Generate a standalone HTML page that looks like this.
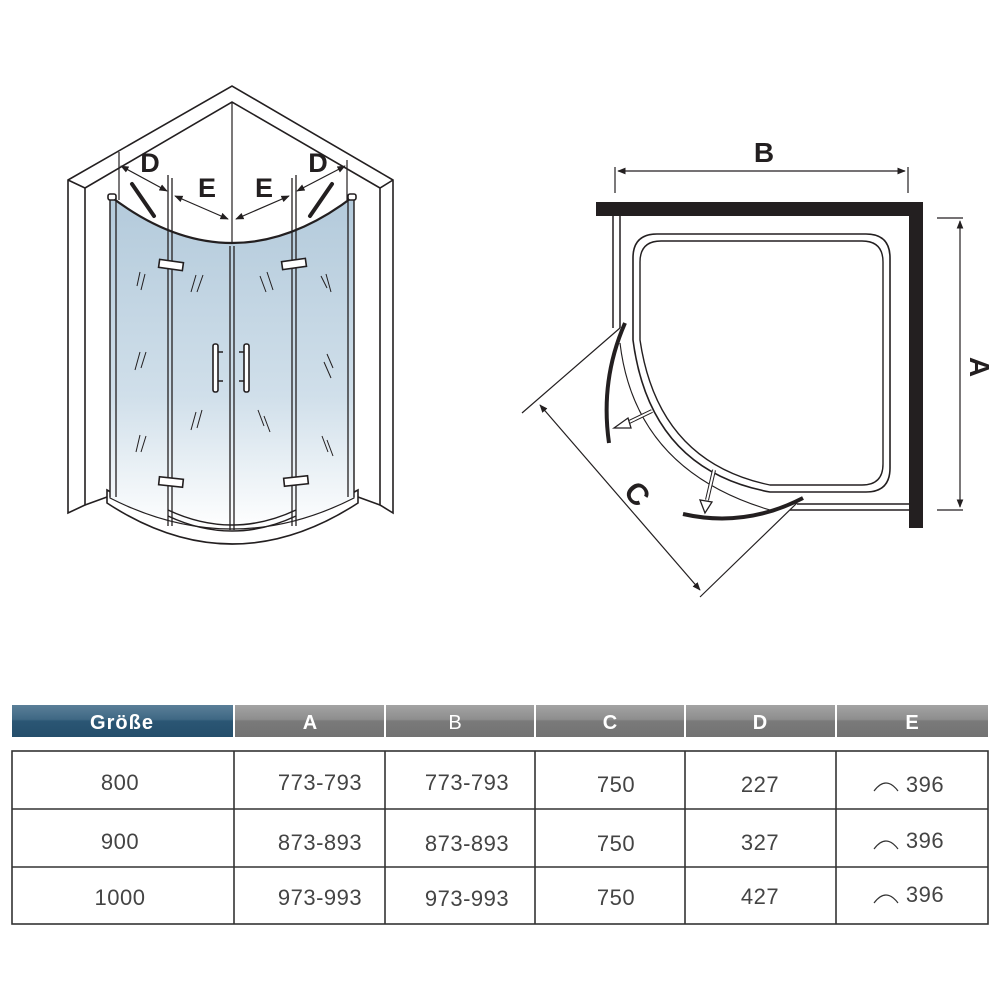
<!DOCTYPE html>
<html><head><meta charset="utf-8"><style>
html,body{margin:0;padding:0;background:#fff;width:1000px;height:1000px;overflow:hidden}
svg{position:absolute;left:0;top:0}
text{font-family:"Liberation Sans",sans-serif}
</style></head><body>
<svg width="1000" height="1000" viewBox="0 0 1000 1000">
<defs>
<linearGradient id="gl" x1="0" y1="0" x2="0" y2="1">
<stop offset="0" stop-color="#b3cadb"/><stop offset="0.6" stop-color="#d0dfea"/><stop offset="1" stop-color="#ffffff"/>
</linearGradient>
<linearGradient id="hg" x1="0" y1="0" x2="0" y2="1">
<stop offset="0" stop-color="#a3a3a3"/><stop offset="0.45" stop-color="#8e8e8e"/><stop offset="0.5" stop-color="#7a7a7a"/><stop offset="1" stop-color="#727272"/>
</linearGradient>
<linearGradient id="hb" x1="0" y1="0" x2="0" y2="1">
<stop offset="0" stop-color="#5a7f98"/><stop offset="0.45" stop-color="#3f6884"/><stop offset="0.5" stop-color="#2b5674"/><stop offset="1" stop-color="#244e6b"/>
</linearGradient>
<marker id="ar" viewBox="0 0 10 10" refX="9" refY="5" markerWidth="7" markerHeight="7" orient="auto-start-reverse"><path d="M0,1 L10,5 L0,9 Z" fill="#231f20"/></marker>
</defs>

<!-- LEFT DRAWING -->
<g stroke="#231f20" stroke-width="1.6" fill="none">
<path d="M68,513 L68,180 L232,86 L393,180 L393,513 L380,505 L380,188 L232,102 L85,188 L85,505 Z" fill="#fff"/>
<path d="M68,180 L85,188 M393,180 L380,188"/>
<path d="M107,490 L107,503 Q232,585 358,503 L358,490 Q232,560 107,490 Z" fill="#fff"/>
<path d="M85,505 L107,497 M380,505 L358,497"/>
<path d="M110,196 Q232,290 354,196 L354,498 Q232,560 110,498 Z" fill="url(#gl)" stroke-width="1.2"/>
<line x1="232" y1="102" x2="232" y2="243" stroke-width="1.2"/>
<path d="M110,196 Q232,290 354,196" stroke-width="2.2"/>
<path d="M110,198 L110,497 M116,198 L116,497 M348,198 L348,497 M354,198 L354,497" stroke-width="1.3"/>
<path d="M168,175 L168,526 M172,178 L172,526 M292,178 L292,526 M296,175 L296,526 M230,246 L230,530 M234,246 L234,530" stroke-width="1.3"/>
<path d="M168,510 Q232,540 296,510 M168,516 Q232,546 296,516" stroke-width="1.5"/>
<rect x="108" y="194" width="8" height="6" rx="2" fill="#fff"/>
<rect x="348" y="194" width="8" height="6" rx="2" fill="#fff"/>
<path d="M132,184 L154,216" stroke-width="4" stroke-linecap="round"/>
<path d="M332,184 L310,216" stroke-width="4" stroke-linecap="round"/>
<rect x="159" y="261" width="24" height="8" fill="#fff" transform="rotate(8 171 265)"/>
<rect x="282" y="260" width="24" height="8" fill="#fff" transform="rotate(-8 294 264)"/>
<rect x="159" y="478" width="24" height="8" fill="#fff" transform="rotate(6 171 482)"/>
<rect x="284" y="477" width="24" height="8" fill="#fff" transform="rotate(-6 296 481)"/>
<rect x="213" y="344" width="5" height="48" rx="2" fill="#fff"/>
<rect x="244" y="344" width="5" height="48" rx="2" fill="#fff"/>
<path d="M218,352 L223,352 M218,381 L223,381 M244,352 L239,352 M244,381 L239,381"/>
<g stroke-width="1">
<path d="M140,272 L137,286 M145,274 L141,290 M196,275 L191,292 M203,275 L197,292 M260,276 L266,292 M267,272 L273,290 M326,274 L331,292 M321,276 L327,288"/>
<path d="M140,352 L135,370 M146,352 L141,368 M324,362 L331,378 M327,354 L333,368"/>
<path d="M196,412 L191,430 M202,410 L197,428 M258,410 L264,426 M264,416 L270,432"/>
<path d="M140,435 L136,452 M146,436 L141,452 M322,436 L328,452 M327,440 L333,456"/>
</g>
<g stroke-width="1.2">
<line x1="119" y1="152" x2="119" y2="200"/>
<line x1="347" y1="160" x2="347" y2="200"/>
<line x1="121" y1="166" x2="167" y2="191" marker-start="url(#ar)" marker-end="url(#ar)"/>
<line x1="175" y1="196" x2="228" y2="219" marker-start="url(#ar)" marker-end="url(#ar)"/>
<line x1="236" y1="219" x2="289" y2="196" marker-start="url(#ar)" marker-end="url(#ar)"/>
<line x1="297" y1="191" x2="345" y2="166" marker-start="url(#ar)" marker-end="url(#ar)"/>
</g>
</g>
<g font-weight="bold" font-size="27" fill="#231f20" text-anchor="middle">
<text x="150" y="172">D</text><text x="207" y="197">E</text><text x="264" y="197">E</text><text x="318" y="172">D</text>
</g>

<!-- RIGHT DRAWING -->
<g stroke="#231f20" fill="none">
<rect x="596" y="202" width="327" height="14" fill="#231f20" stroke="none"/>
<rect x="909" y="202" width="14" height="326" fill="#231f20" stroke="none"/>
<path d="M613,216 L613,328 M620,216 L620,328" stroke-width="1.5"/>
<path d="M797,504 L909,504 M790,510 L909,510" stroke-width="1.5"/>
<path d="M633,340 L633,258 Q633,234 657,234 L866,234 Q890,234 890,258 L890,468 Q890,492 866,492 L770,492 Q650,470 633,340 Z" stroke-width="1.6"/>
<path d="M640,340 L640,262 Q640,241 661,241 L862,241 Q883,241 883,262 L883,464 Q883,485 862,485 L770,485 Q658,462 640,340 Z" stroke-width="1.4"/>
<path d="M620,343 Q635,470 770,510" stroke-width="1.1"/>
<path d="M625,323 Q600,380 609,443" stroke-width="4"/>
<path d="M683,514 Q745,528 803,498" stroke-width="4"/>
<path d="M652,411 L625,424" stroke-width="4"/><path d="M652,411 L625,424" stroke="#fff" stroke-width="2"/>
<path d="M614,428 L628,418 L631,428 Z" fill="#fff" stroke-width="1.3"/>
<path d="M714,470 L707,500" stroke-width="4"/><path d="M714,470 L707,500" stroke="#fff" stroke-width="2"/>
<path d="M705,513 L700,500 L712,502 Z" fill="#fff" stroke-width="1.3"/>
<g stroke-width="1.2">
<line x1="522" y1="413" x2="620" y2="328"/>
<line x1="700" y1="597" x2="797" y2="503"/>
<line x1="540" y1="405" x2="700" y2="590" marker-start="url(#ar)" marker-end="url(#ar)"/>
<line x1="615" y1="167" x2="615" y2="193"/>
<line x1="908" y1="167" x2="908" y2="193"/>
<line x1="618" y1="171" x2="905" y2="171" marker-start="url(#ar)" marker-end="url(#ar)"/>
<line x1="937" y1="218" x2="963" y2="218"/>
<line x1="937" y1="510" x2="963" y2="510"/>
<line x1="960" y1="221" x2="960" y2="507" marker-start="url(#ar)" marker-end="url(#ar)"/>
</g>
</g>
<g font-weight="bold" font-size="28" fill="#231f20" text-anchor="middle">
<text x="764" y="162">B</text>
<text transform="translate(970,367) rotate(90)" x="0" y="0">A</text>
<text transform="translate(637,494) rotate(49)" x="0" y="10" font-size="30">C</text>
</g>

<!-- TABLE -->
<rect x="12" y="705" width="221" height="32" fill="url(#hb)"/>
<g fill="url(#hg)">
<rect x="235" y="705" width="149" height="32"/><rect x="386" y="705" width="148" height="32"/>
<rect x="536" y="705" width="148" height="32"/><rect x="686" y="705" width="149" height="32"/>
<rect x="837" y="705" width="151" height="32"/>
</g>
<g font-weight="bold" font-size="20" fill="#fff" text-anchor="middle">
<text x="122" y="729" letter-spacing="1">Größe</text>
<text x="310" y="729">A</text><text x="455" y="729" font-weight="normal">B</text><text x="610" y="729">C</text>
<text x="760" y="729">D</text><text x="912" y="729">E</text>
</g>
<g stroke="#333" stroke-width="1.6" fill="none">
<rect x="12" y="751" width="976" height="173"/>
<line x1="12" y1="809" x2="988" y2="809"/><line x1="12" y1="867" x2="988" y2="867"/>
<line x1="234" y1="751" x2="234" y2="924"/><line x1="385" y1="751" x2="385" y2="924"/>
<line x1="535" y1="751" x2="535" y2="924"/><line x1="685" y1="751" x2="685" y2="924"/>
<line x1="836" y1="751" x2="836" y2="924"/>
<path d="M874,791 Q886,775 898,791 M874,849 Q886,833 898,849 M874,903 Q886,887 898,903" stroke-width="1.2"/>
</g>
<g font-size="22" fill="#444" text-anchor="middle" letter-spacing="0.5">
<text x="120" y="790">800</text><text x="320" y="790">773-793</text><text x="467" y="790">773-793</text><text x="616" y="792">750</text><text x="760" y="792">227</text><text x="925" y="792">396</text>
<text x="120" y="849">900</text><text x="320" y="850">873-893</text><text x="467" y="851">873-893</text><text x="616" y="851">750</text><text x="760" y="850">327</text><text x="925" y="848">396</text>
<text x="120" y="905">1000</text><text x="320" y="905">973-993</text><text x="467" y="906">973-993</text><text x="616" y="905">750</text><text x="760" y="904">427</text><text x="925" y="902">396</text>
</g>
</svg>
</body></html>
